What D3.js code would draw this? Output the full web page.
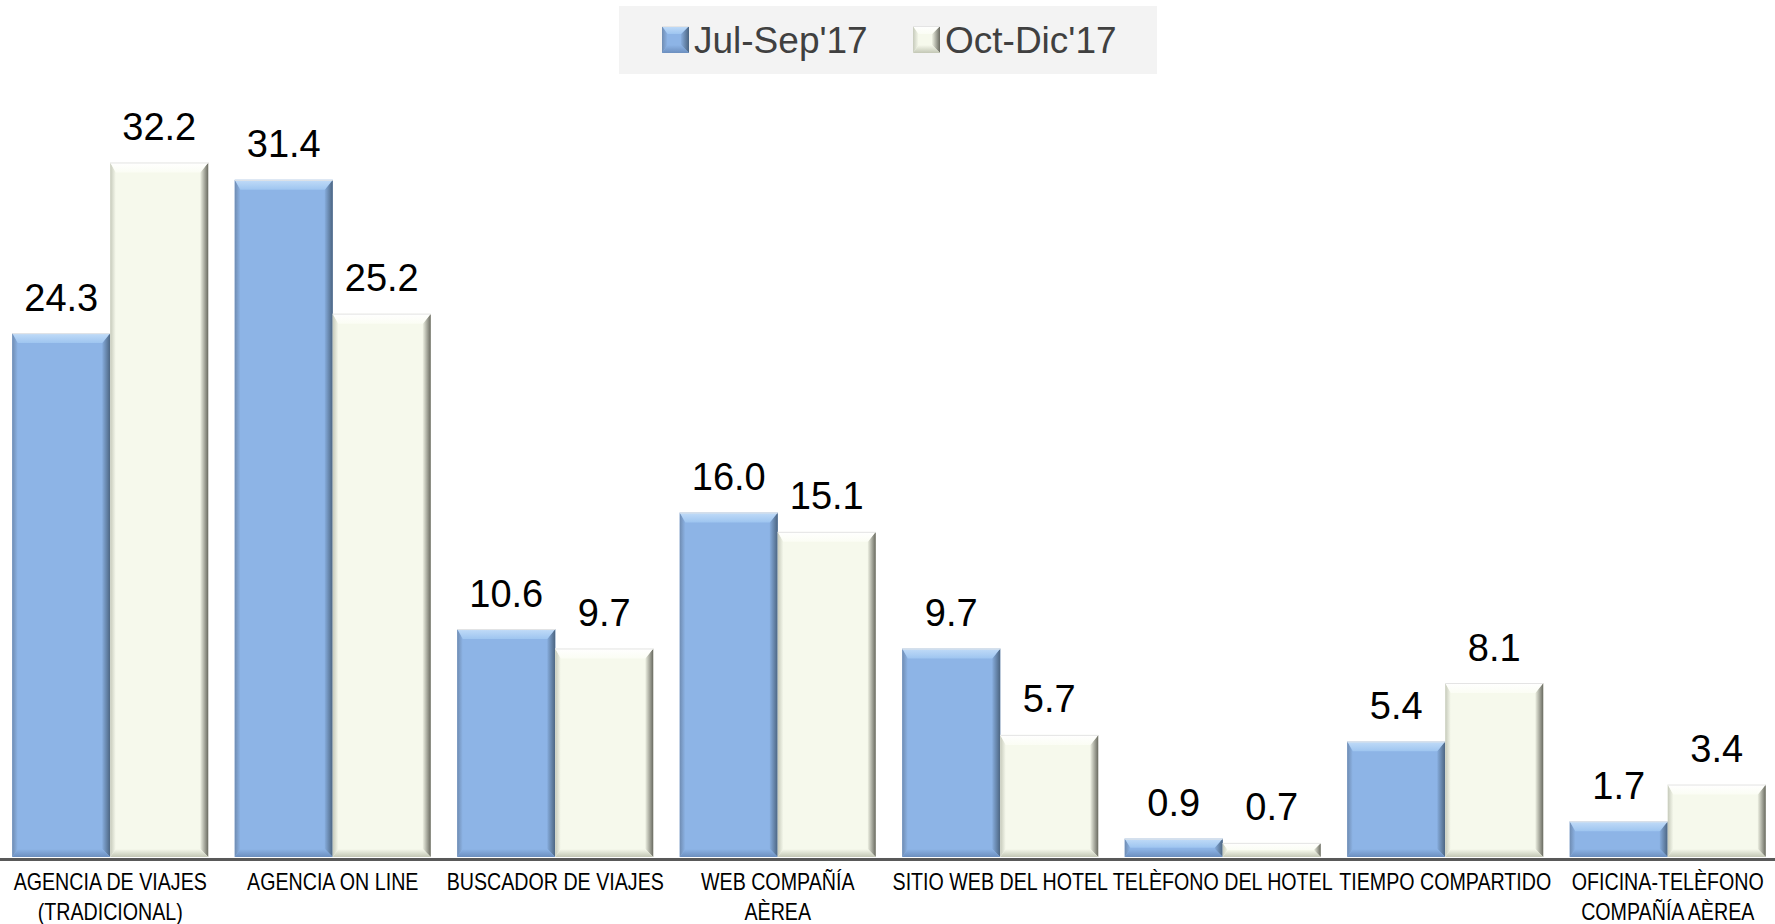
<!DOCTYPE html>
<html><head><meta charset="utf-8">
<script src="https://cdn.jsdelivr.net/npm/d3@7"></script>
<style>html,body{margin:0;padding:0;background:#fff;overflow:hidden}</style>
</head><body>
<svg id="c" width="1775" height="924"></svg>
<script>
const categories = ["AGENCIA DE VIAJES\n(TRADICIONAL)","AGENCIA ON LINE","BUSCADOR DE VIAJES","WEB COMPAÑÍA\nAÈREA","SITIO WEB DEL HOTEL","TELÈFONO DEL HOTEL","TIEMPO COMPARTIDO","OFICINA-TELÈFONO\nCOMPAÑÍA AÈREA"];
const seriesNames = ["Jul-Sep'17","Oct-Dic'17"];
const julSep = [24.3,31.4,10.6,16.0,9.7,0.9,5.4,1.7];
const octDic = [32.2,25.2,9.7,15.1,5.7,0.7,8.1,3.4];
const yDomain = [0,35];

const svg = d3.select("#c");
const W = 1775, H = 924;
const baseY = 858;
const x0 = d3.scaleBand().domain(categories).range([-1,1779]).paddingInner(0.119).paddingOuter(0.0595);
const x1 = d3.scaleBand().domain(seriesNames).range([0,x0.bandwidth()]);
const y = d3.scaleLinear().domain(yDomain).range([baseY, baseY-35*21.6]);

const styles = [
  {main:"#8db4e6", top:["#c2dcf8","#9ec5f0"], right:["#86acdc","#4b6480"], left:["#6f8cb2","#8db4e6"], bottom:["#8db4e6","#6c8fbf"]},
  {main:"#f6f9ec", top:["#ffffff","#fbfdf4"], right:["#eef1e3","#68695f"], left:["#c6cabb","#f6f9ec"], bottom:["#f6f9ec","#c3c7b5"]}
];
const defs = svg.append("defs");
styles.forEach((s,i)=>{
  const mk=(id,cols,x2,y2)=>{const g=defs.append("linearGradient").attr("id",id).attr("x1",0).attr("y1",0).attr("x2",x2).attr("y2",y2);
    g.append("stop").attr("offset","0%").attr("stop-color",cols[0]);g.append("stop").attr("offset","100%").attr("stop-color",cols[1]);};
  mk("gt"+i,s.top,0,1); mk("gr"+i,s.right,1,0); mk("gl"+i,s.left,1,0); mk("gb"+i,s.bottom,0,1);
});

function bevelBar(g, x, yt, w, h, si, bt, bs){
  const s = styles[si];
  const b = Math.min(bt, h/2), c = Math.min(bs, h/2);
  g.append("rect").attr("x",x).attr("y",yt).attr("width",w).attr("height",h).attr("fill",s.main);
  const poly=(pts,f)=>g.append("polygon").attr("points",pts.map(p=>p.join(",")).join(" ")).attr("fill",f);
  poly([[x,yt],[x+c*0.7,yt+b],[x+c*0.7,yt+h-c],[x,yt+h]],`url(#gl${si})`);
  poly([[x+w,yt],[x+w,yt+h],[x+w-c,yt+h-c],[x+w-c,yt+b]],`url(#gr${si})`);
  poly([[x,yt+h],[x+c*0.7,yt+h-c],[x+w-c,yt+h-c],[x+w,yt+h]],`url(#gb${si})`);
  poly([[x,yt],[x+w,yt],[x+w-c,yt+b],[x+c*0.7,yt+b]],`url(#gt${si})`);
  g.append("line").attr("x1",x).attr("x2",x+w).attr("y1",yt+0.5).attr("y2",yt+0.5).attr("stroke","#e4e4e4").attr("stroke-width",1);
}

const series = [julSep, octDic];
const gBars = svg.append("g");
categories.forEach((cat,ci)=>{
  series.forEach((arr,si)=>{
    const v = arr[ci];
    const bx = x0(cat)+x1(seriesNames[si]);
    const bw = x1.bandwidth();
    const yt = y(v);
    bevelBar(gBars, bx, yt, bw, (baseY-1)-yt, si, 10, 8);
    gBars.append("text").attr("x",bx+bw/2).attr("y",yt-22.5).attr("text-anchor","middle")
      .attr("font-family","'Liberation Sans', Arial, sans-serif").attr("font-size",38).attr("fill","#000")
      .text(d3.format(".1f")(v));
  });
});

// axis line
svg.append("line").attr("x1",0).attr("x2",W).attr("y1",baseY+1.5).attr("y2",baseY+1.5).attr("stroke","#595959").attr("stroke-width",3);

// category labels (horizontally condensed to emulate a narrow face)
const gLab = svg.append("g");
categories.forEach(cat=>{
  const lines = cat.split("\n");
  const cx = x0(cat)+x0.bandwidth()/2;
  lines.forEach((ln,i)=>{
    gLab.append("text").attr("text-anchor","middle")
      .attr("transform",`translate(${cx},${890+i*30}) scale(0.855,1)`)
      .attr("font-family","'Liberation Sans',Arial,sans-serif").attr("font-size",23).attr("fill","#000")
      .text(ln);
  });
});

// legend
const lg = svg.append("g");
lg.append("rect").attr("x",619).attr("y",6).attr("width",538).attr("height",68).attr("fill","#f3f3f3");
const legX = [662, 913];
seriesNames.forEach((n,i)=>{
  bevelBar(lg, legX[i], 26, 27, 27, i, 8, 8);
  lg.append("text").attr("x",legX[i]+32).attr("y",53).attr("font-family","'Liberation Sans', Arial, sans-serif")
    .attr("font-size",37).attr("fill","#404040").text(n);
});
</script>
</body></html>
